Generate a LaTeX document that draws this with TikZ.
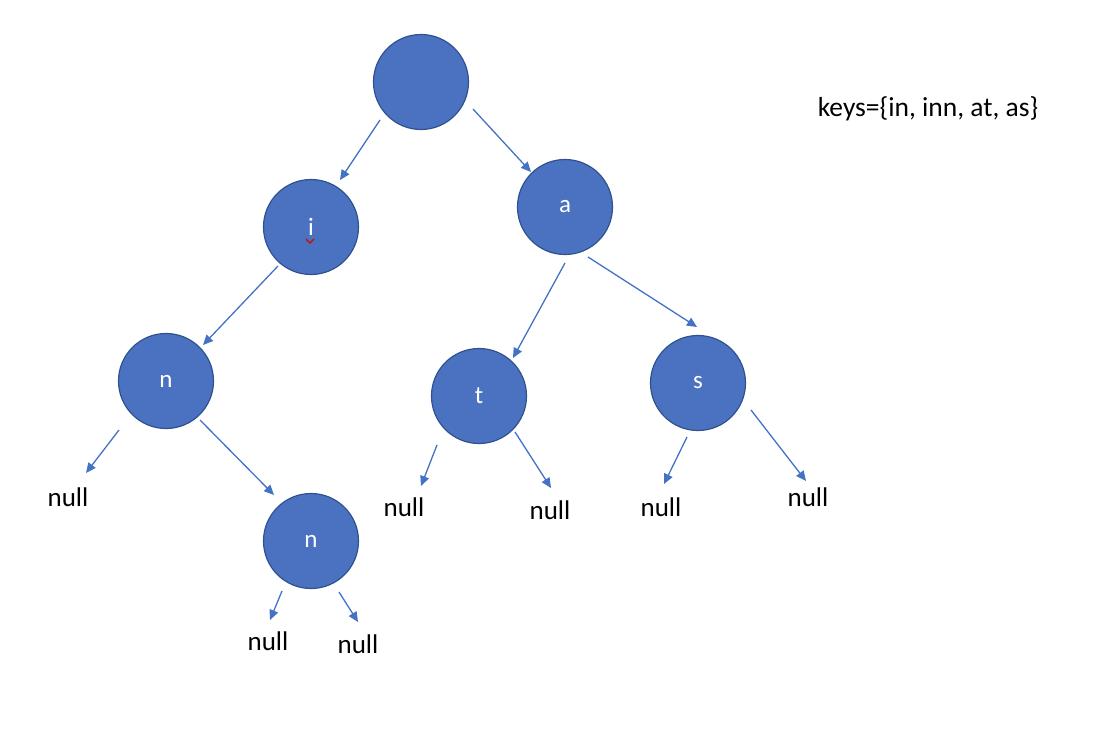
\documentclass[tikz,border=0pt]{standalone}
\usepackage{fontspec}
\setmainfont{Carlito}
\usetikzlibrary{arrows.meta}
\definecolor{nodefill}{HTML}{4A72C0}
\definecolor{nodeedge}{HTML}{2F528F}
\definecolor{linkblue}{HTML}{4472C4}
\begin{document}
\begin{tikzpicture}[x=1pt,y=-1pt,
  trienode/.style={circle,fill=nodefill,draw=nodeedge,line width=1.2pt,
    minimum size=95pt,inner sep=0pt,text=white,
    font=\fontsize{25}{28}\selectfont},
  nulltext/.style={font=\fontsize{27}{30}\selectfont,inner sep=0pt},
  link/.style={draw=linkblue,line width=1.3pt,
    -{Triangle[length=10pt,width=9pt]}}]
\useasboundingbox (0,0) rectangle (1094,744);

% trie nodes
\node[trienode] (root) at (421,82) {};
\node[trienode] (ni) at (311,227) {i};
\node[trienode] (na) at (565,207) {a};
\node[trienode] (nn1) at (166,381) {n};
\node[trienode] (nt) at (479,396) {t};
\node[trienode] (ns) at (698,383) {s};
\node[trienode] (nn2) at (311,541) {n};

% spell-check mark under the i
\draw[red!85!black,line width=1.1pt] (306,239) -- (310,243) -- (314,239);

% null leaves
\node[nulltext] (z1) at (68,497) {null};
\node[nulltext] (z2) at (404,507) {null};
\node[nulltext] (z3) at (550,510) {null};
\node[nulltext] (z4) at (661,507) {null};
\node[nulltext] (z5) at (808,497) {null};
\node[nulltext] (z6) at (268,641) {null};
\node[nulltext] (z7) at (358,644) {null};

% key list
\node[font=\fontsize{27.5}{30}\selectfont,inner sep=0pt] (keys) at (928,109) {keys=\{in, inn, at, as\}};

% arrow end points
\coordinate (r-i-s) at (380,120);   \coordinate (r-i-e) at (340,180);
\coordinate (r-a-s) at (473,109);   \coordinate (r-a-e) at (531,172);
\coordinate (i-n-s) at (278,266);   \coordinate (i-n-e) at (203,345);
\coordinate (a-t-s) at (565,263);   \coordinate (a-t-e) at (513,358);
\coordinate (a-s-s) at (588,257);   \coordinate (a-s-e) at (697,327);
\coordinate (n1-z-s) at (119,430);  \coordinate (n1-z-e) at (86,473);
\coordinate (n1-n-s) at (200,420);  \coordinate (n1-n-e) at (274,495);
\coordinate (t-z1-s) at (437,445);  \coordinate (t-z1-e) at (421,486);
\coordinate (t-z2-s) at (515,432);  \coordinate (t-z2-e) at (551,488);
\coordinate (s-z1-s) at (687,437);  \coordinate (s-z1-e) at (664,484);
\coordinate (s-z2-s) at (751,410);  \coordinate (s-z2-e) at (806,481);
\coordinate (n2-z1-s) at (282,591); \coordinate (n2-z1-e) at (270,620);
\coordinate (n2-z2-s) at (339,592); \coordinate (n2-z2-e) at (358,622);

% links
\draw[link] (r-i-s) -- (r-i-e);
\draw[link] (r-a-s) -- (r-a-e);
\draw[link] (i-n-s) -- (i-n-e);
\draw[link] (a-t-s) -- (a-t-e);
\draw[link] (a-s-s) -- (a-s-e);
\draw[link] (n1-z-s) -- (n1-z-e);
\draw[link] (n1-n-s) -- (n1-n-e);
\draw[link] (t-z1-s) -- (t-z1-e);
\draw[link] (t-z2-s) -- (t-z2-e);
\draw[link] (s-z1-s) -- (s-z1-e);
\draw[link] (s-z2-s) -- (s-z2-e);
\draw[link] (n2-z1-s) -- (n2-z1-e);
\draw[link] (n2-z2-s) -- (n2-z2-e);
\end{tikzpicture}
\end{document}
